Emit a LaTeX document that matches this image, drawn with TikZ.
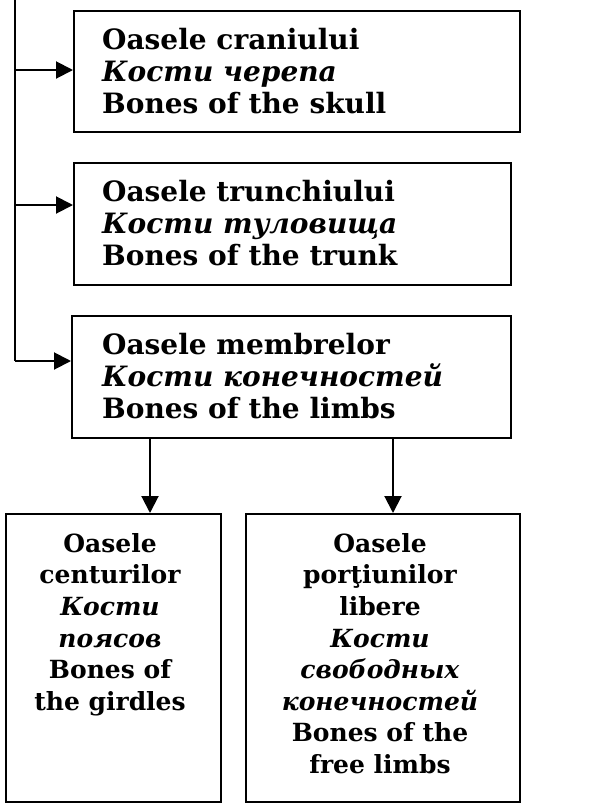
\documentclass[tikz,border=0pt]{standalone}
\usepackage{fontspec}
\setmainfont{DejaVu Serif}
\usetikzlibrary{arrows.meta}
\begin{document}
\begin{tikzpicture}[x=1pt,y=-1pt,
  box/.style={draw=black, line width=2pt, fill=white, inner sep=0pt, anchor=north west},
  txt/.style={inner sep=0pt, font=\fontsize{28}{32}\selectfont\bfseries},
  stxt/.style={inner sep=0pt, font=\fontsize{25}{31.6}\selectfont\bfseries},
  conn/.style={line width=2pt, draw=black},
  arr/.style={conn, -{Triangle[length=17pt,width=17pt]}}]
\useasboundingbox (0,0) rectangle (596,807);
% boxes
\node[box, minimum width=446pt, minimum height=121pt] (b1) at (73,10) {};
\node[box, minimum width=437pt, minimum height=122pt] (b2) at (73,162) {};
\node[box, minimum width=439pt, minimum height=122pt] (b3) at (71,315) {};
\node[box, minimum width=215pt, minimum height=288pt] (b4) at (5,513) {};
\node[box, minimum width=274pt, minimum height=288pt] (b5) at (245,513) {};
% texts
\node[txt, anchor=west, align=left] (t1) at (102,71) {Oasele craniului\\\textit{Кости черепа}\\Bones of the skull};
\node[txt, anchor=west, align=left] (t2) at (102,223) {Oasele trunchiului\\\textit{Кости туловища}\\Bones of the trunk};
\node[txt, anchor=west, align=left] (t3) at (102,376) {Oasele membrelor\\\textit{Кости конечностей}\\Bones of the limbs};
\node[stxt, anchor=north, align=center] (t4) at (110,533) {Oasele\\centurilor\\\textit{Кости}\\\textit{поясов}\\Bones of\\the girdles};
\node[stxt, anchor=north, align=center] (t5) at (380,533) {Oasele\\porţiunilor\\libere\\\textit{Кости}\\\textit{свободных}\\\textit{конечностей}\\Bones of the\\free limbs};
% trunk
\coordinate (top) at (15,0);
\coordinate (j1) at (15,70);
\coordinate (j2) at (15,205);
\coordinate (j3) at (15,361);
\coordinate (a1) at (150,0);
\coordinate (a2) at (393,0);
\draw[conn] (top) -- (j3);
\draw[arr] (j1) -- (j1 -| b1.west);
\draw[arr] (j2) -- (j2 -| b2.west);
\draw[arr] (j3) -- (j3 -| b3.west);
\draw[arr] (b3.south -| a1) -- (b4.north -| a1);
\draw[arr] (b3.south -| a2) -- (b5.north -| a2);
\end{tikzpicture}
\end{document}
